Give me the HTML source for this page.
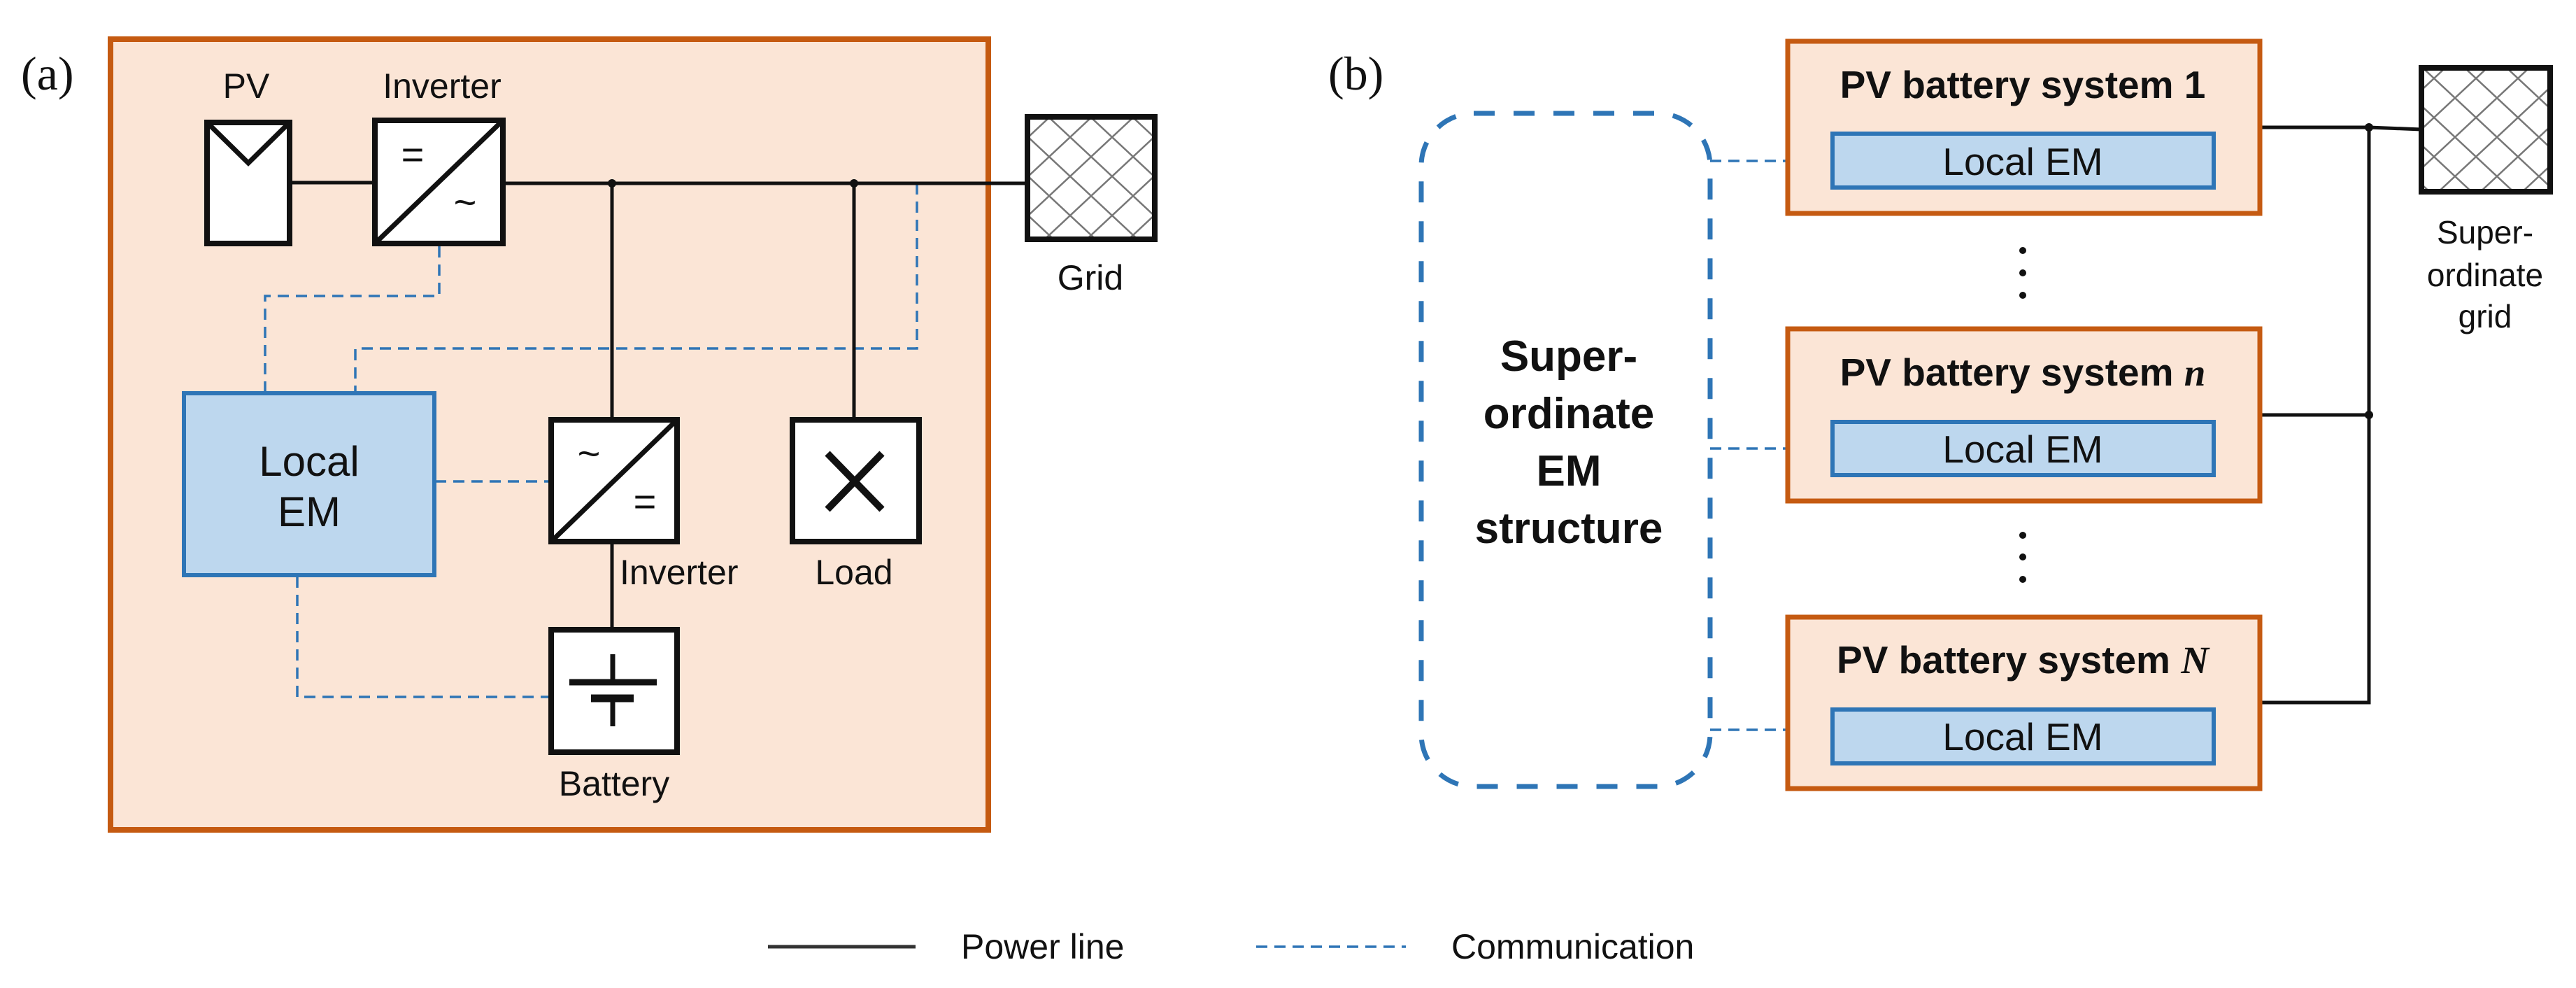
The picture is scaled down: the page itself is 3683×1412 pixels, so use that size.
<!DOCTYPE html>
<html><head><meta charset="utf-8"><style>
html,body{margin:0;padding:0;background:#fff;}
svg{display:block;}
text{font-family:"Liberation Sans",sans-serif;fill:#111;}
</style></head><body>
<svg width="3683" height="1412" viewBox="0 0 3683 1412" xmlns="http://www.w3.org/2000/svg">
<defs>
<pattern id="hatch" width="60" height="56" patternUnits="userSpaceOnUse" x="0" y="0">
<path d="M0 0 L60 56 M60 0 L0 56" stroke="#777" stroke-width="2.5" fill="none"/>
</pattern>
</defs>

<!-- ===== Panel (a) ===== -->
<text x="30" y="128" font-family="Liberation Serif" style="font-family:'Liberation Serif',serif" font-size="68">(a)</text>
<rect x="158" y="56" width="1255" height="1130" fill="#fbe5d6" stroke="#c55a11" stroke-width="8"/>

<!-- communication dashed (a) -->
<g stroke="#2e75b6" stroke-width="3.5" fill="none" stroke-dasharray="16,10">
<path d="M628 352 V423 H379 V560"/>
<path d="M1311 262 V498 H508 V560"/>
<path d="M622 688 H784"/>
<path d="M425 824 V996 H784"/>
</g>

<!-- power lines (a) -->
<g stroke="#111" stroke-width="5" fill="none">
<path d="M417 261 H532"/>
<path d="M723 262 H1467"/>
<path d="M875 262 V596"/>
<path d="M875 777 V898"/>
<path d="M1221 262 V596"/>
</g>
<circle cx="875" cy="262" r="6" fill="#111"/>
<circle cx="1221" cy="262" r="6" fill="#111"/>

<!-- PV -->
<text x="352" y="140" font-size="50" text-anchor="middle">PV</text>
<rect x="296" y="175" width="118" height="173" fill="#fff" stroke="#111" stroke-width="8"/>
<path d="M296 175 L355 233 L414 175" stroke="#111" stroke-width="7" fill="none"/>

<!-- Inverter 1 -->
<text x="632" y="140" font-size="50" text-anchor="middle">Inverter</text>
<rect x="536" y="172" width="183" height="176" fill="#fff" stroke="#111" stroke-width="8"/>
<path d="M536 348 L719 172" stroke="#111" stroke-width="7"/>
<text x="590" y="240" font-size="56" text-anchor="middle">=</text>
<text x="665" y="308" font-size="56" text-anchor="middle">~</text>

<!-- Grid (a) -->
<rect x="1469" y="167" width="182" height="175" fill="url(#hatch)" stroke="#111" stroke-width="8"/>
<text x="1559" y="414" font-size="50" text-anchor="middle">Grid</text>

<!-- Local EM -->
<rect x="263" y="562" width="358" height="260" fill="#bdd7ee" stroke="#2e75b6" stroke-width="6"/>
<text x="442" y="680" font-size="60" text-anchor="middle">Local</text>
<text x="442" y="752" font-size="60" text-anchor="middle">EM</text>

<!-- Inverter 2 -->
<rect x="788" y="600" width="180" height="174" fill="#fff" stroke="#111" stroke-width="8"/>
<path d="M788 774 L968 600" stroke="#111" stroke-width="7"/>
<text x="842" y="667" font-size="56" text-anchor="middle">~</text>
<text x="922" y="736" font-size="56" text-anchor="middle">=</text>
<text x="886" y="835" font-size="50">Inverter</text>

<!-- Load -->
<rect x="1133" y="600" width="181" height="174" fill="#fff" stroke="#111" stroke-width="8"/>
<path d="M1183 648 L1261 728 M1261 648 L1183 728" stroke="#111" stroke-width="10"/>
<text x="1221" y="835" font-size="50" text-anchor="middle">Load</text>

<!-- Battery -->
<rect x="788" y="900" width="180" height="175" fill="#fff" stroke="#111" stroke-width="8"/>
<path d="M876 935 V975 M876 998 V1038" stroke="#111" stroke-width="7"/>
<path d="M814 975 H939" stroke="#111" stroke-width="9"/>
<path d="M845 998 H906" stroke="#111" stroke-width="11"/>
<text x="878" y="1137" font-size="50" text-anchor="middle">Battery</text>

<!-- Legend -->
<path d="M1098 1353 H1309" stroke="#333" stroke-width="5"/>
<text x="1374" y="1370" font-size="50">Power line</text>
<path d="M1796 1353 H2010" stroke="#2e75b6" stroke-width="3.5" stroke-dasharray="16,10"/>
<text x="2075" y="1370" font-size="50">Communication</text>

<!-- ===== Panel (b) ===== -->
<text x="1899" y="128" style="font-family:'Liberation Serif',serif" font-size="68">(b)</text>

<rect x="2032" y="162" width="413" height="962" rx="75" ry="75" fill="none" stroke="#2e75b6" stroke-width="7" stroke-dasharray="30,27"/>
<g font-weight="bold" font-size="62" text-anchor="middle">
<text x="2243" y="530">Super-</text>
<text x="2243" y="612">ordinate</text>
<text x="2243" y="694">EM</text>
<text x="2243" y="776">structure</text>
</g>

<!-- comm dashed (b) -->
<g stroke="#2e75b6" stroke-width="3.5" fill="none" stroke-dasharray="16,10">
<path d="M2445 230 H2618"/>
<path d="M2445 641 H2618"/>
<path d="M2445 1043 H2618"/>
</g>

<!-- power (b) -->
<g stroke="#111" stroke-width="5" fill="none">
<path d="M3233 182 H3387 L3462 185"/>
<path d="M3387 182 V1004 H3233"/>
<path d="M3233 593 H3387"/>
</g>
<circle cx="3387" cy="182" r="6" fill="#111"/>
<circle cx="3387" cy="593" r="6" fill="#111"/>

<!-- systems -->
<g>
<rect x="2556" y="59" width="675" height="246" fill="#fbe5d6" stroke="#c55a11" stroke-width="7"/>
<text x="2892" y="140" font-size="55" font-weight="bold" text-anchor="middle">PV battery system 1</text>
<rect x="2620" y="191" width="545" height="77" fill="#bdd7ee" stroke="#2e75b6" stroke-width="6"/>
<text x="2892" y="250" font-size="55" text-anchor="middle">Local EM</text>

<rect x="2556" y="470" width="675" height="246" fill="#fbe5d6" stroke="#c55a11" stroke-width="7"/>
<text x="2892" y="551" font-size="55" font-weight="bold" text-anchor="middle">PV battery system <tspan style="font-family:'Liberation Serif',serif" font-style="italic">n</tspan></text>
<rect x="2620" y="603" width="545" height="76" fill="#bdd7ee" stroke="#2e75b6" stroke-width="6"/>
<text x="2892" y="661" font-size="55" text-anchor="middle">Local EM</text>

<rect x="2556" y="882" width="675" height="245" fill="#fbe5d6" stroke="#c55a11" stroke-width="7"/>
<text x="2892" y="962" font-size="55" font-weight="bold" text-anchor="middle">PV battery system <tspan style="font-family:'Liberation Serif',serif" font-style="italic">N</tspan></text>
<rect x="2620" y="1014" width="545" height="77" fill="#bdd7ee" stroke="#2e75b6" stroke-width="6"/>
<text x="2892" y="1072" font-size="55" text-anchor="middle">Local EM</text>
</g>

<!-- dots -->
<g fill="#111">
<circle cx="2892" cy="358" r="5"/><circle cx="2892" cy="390" r="5"/><circle cx="2892" cy="422" r="5"/>
<circle cx="2892" cy="765" r="5"/><circle cx="2892" cy="796" r="5"/><circle cx="2892" cy="828" r="5"/>
</g>

<!-- Grid (b) -->
<rect x="3462" y="97" width="184" height="177" fill="url(#hatch)" stroke="#111" stroke-width="8"/>
<g font-size="46" text-anchor="middle">
<text x="3553" y="348">Super-</text>
<text x="3553" y="409">ordinate</text>
<text x="3553" y="468">grid</text>
</g>
</svg>
</body></html>
